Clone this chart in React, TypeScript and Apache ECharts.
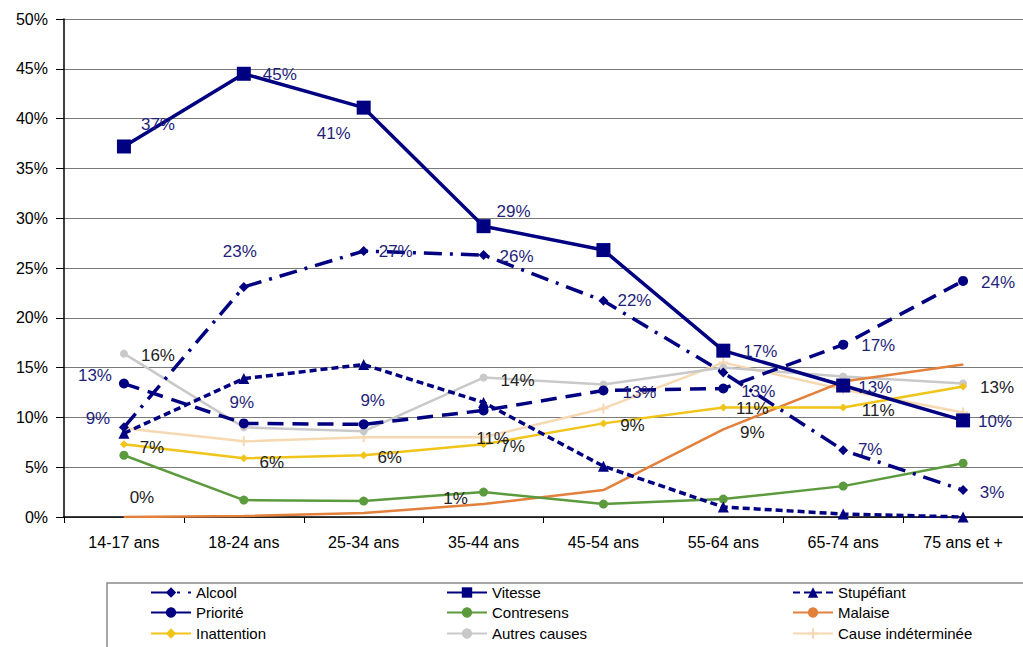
import React, { useEffect, useRef } from "react";
import * as echarts from "echarts";

const categories = ["14-17 ans", "18-24 ans", "25-34 ans", "35-44 ans", "45-54 ans", "55-64 ans", "65-74 ans", "75 ans et +"];
const yTicks = [0, 5, 10, 15, 20, 25, 30, 35, 40, 45, 50];

const alcool = [9.0, 23.1, 26.7, 26.3, 21.7, 14.5, 6.7, 2.7];
const vitesse = [37.2, 44.5, 41.1, 29.2, 26.8, 16.7, 13.2, 9.7];
const stupefiant = [8.4, 13.9, 15.3, 11.5, 5.1, 1.0, 0.3, 0.0];
const priorite = [13.4, 9.4, 9.3, 10.7, 12.7, 12.9, 17.3, 23.7];
const contresens = [6.2, 1.7, 1.6, 2.5, 1.3, 1.8, 3.1, 5.4];
const malaise = [0.0, 0.1, 0.4, 1.3, 2.7, 8.8, 13.6, 15.3];
const inattention = [7.3, 5.9, 6.2, 7.3, 9.4, 11.0, 11.0, 13.1];
const autres = [16.4, 9.0, 8.6, 14.0, 13.3, 15.0, 14.1, 13.4];
const indeterminee = [8.9, 7.6, 8.0, 8.0, 10.9, 15.5, 12.8, 10.5];

// label offsets (dx, dy from point), null = no label
type Off = [number, number] | null;
const alcoolLbl: Off[] = [[-26, -9], [-4, -35], [32, 0], [33, 1], [31, 0], null, [27, -1], [29, 2]];
const vitesseLbl: Off[] = [[34, -22], [36, 1], [-30, 26], [30, -15], null, [37, 1], [32, 2], [32, 1]];
const prioriteLbl: Off[] = [[-29, -8], [-2, -21], [9, -24], [9, 28], [36, 2], [35, 3], [35, 1], [35, 2]];
const autresLbl: Off[] = [[34, 2], null, null, [34, 3], null, null, null, [34, 4]];
const inattentionLbl: Off[] = [[28, 3], [28, 4], [26, 2], [29, 2], [29, 2], [29, 1], [35, 3], null];
const malaiseLbl: Off[] = [[18, -20], null, null, [-28, -6], null, [29, 3], null, null];
const noLbl: Off[] = [null, null, null, null, null, null, null, null];

const NAVY = "#000080";
const NAVY_TXT = "#1f1f7a";
const BLACK_TXT = "#222";
const FONT = "Liberation Sans, Arial, sans-serif";

function buildData(values: number[], offs: Off[], color: string, overrides: Record<number, string> = {}) {
  return values.map((v, i) => {
    const o = offs[i];
    return {
      value: v,
      label: o
        ? {
            show: true,
            position: "inside",
            offset: o,
            color: overrides[i] || color,
            fontSize: 17,
            fontFamily: FONT,
            formatter: (p: any) => Math.round(p.value) + "%",
          }
        : { show: false },
    };
  });
}

function line(
  name: string,
  values: number[],
  offs: Off[],
  color: string,
  width: number,
  dash: any,
  symbol: string,
  symbolSize: number,
  labelColor: string,
  overrides: Record<number, string> = {}
) {
  return {
    name,
    type: "line",
    data: buildData(values, offs, labelColor, overrides),
    symbol,
    symbolSize,
    showAllSymbol: true,
    lineStyle: { color, width, type: dash },
    itemStyle: { color, borderWidth: 0 },
    emphasis: { disabled: true },
  };
}

const PLUS = "path://M4,0h2v10h-2z M0,4h10v2h-10z";

const series = [
  line("Cause indéterminée", indeterminee, noLbl, "#f6d9b3", 2.5, "solid", PLUS, 10, BLACK_TXT),
  line("Autres causes", autres, autresLbl, "#c9c9c9", 2.5, "solid", "circle", 8, BLACK_TXT),
  line("Malaise", malaise, malaiseLbl, "#e2803c", 2.5, "solid", "circle", 1, BLACK_TXT),
  line("Inattention", inattention, inattentionLbl, "#f0c419", 2.5, "solid", "diamond", 8, BLACK_TXT),
  line("Contresens", contresens, noLbl, "#5c9a3e", 2.5, "solid", "circle", 9, BLACK_TXT),
  line("Stupéfiant", stupefiant, noLbl, NAVY, 3.5, [7, 4], "triangle", 11, NAVY_TXT),
  line("Priorité", priorite, prioriteLbl, NAVY, 3.5, [16, 9], "circle", 10, NAVY_TXT, { 3: BLACK_TXT }),
  line("Alcool", alcool, alcoolLbl, NAVY, 3.5, [18, 8, 3, 8], "diamond", 10, NAVY_TXT),
  line("Vitesse", vitesse, vitesseLbl, NAVY, 3.5, "solid", "rect", 14, NAVY_TXT),
];

const legendRows = [
  ["Alcool", "Vitesse", "Stupéfiant"],
  ["Priorité", "Contresens", "Malaise"],
  ["Inattention", "Autres causes", "Cause indéterminée"],
];
const legendLeft = [150, 446, 792];
const legendTop = [585, 605, 626];

const legends: any[] = [];
legendRows.forEach((row, r) =>
  row.forEach((name, c) =>
    legends.push({
      data: [name],
      orient: "horizontal",
      left: legendLeft[c],
      top: legendTop[r],
      itemWidth: 40,
      itemHeight: 13,
      itemGap: 0,
      padding: 0,
      selectedMode: false,
      textStyle: { color: "#000", fontSize: 15, fontFamily: FONT },
    })
  )
);

const option: any = {
  animation: false,
  backgroundColor: "#fff",
  grid: { left: 64, top: 19, bottom: 130, right: -6, containLabel: false },
  xAxis: {
    type: "category",
    data: categories,
    boundaryGap: true,
    axisLine: { show: true, lineStyle: { color: "#000", width: 1.5 } },
    axisTick: { show: true, length: 6, lineStyle: { color: "#000" } },
    axisLabel: { color: "#000", fontSize: 16, fontFamily: FONT, margin: 17, interval: 0 },
    splitLine: { show: false },
  },
  yAxis: {
    type: "value",
    min: yTicks[0],
    max: yTicks[yTicks.length - 1],
    interval: 5,
    axisLine: { show: true, lineStyle: { color: "#000", width: 1.5 } },
    axisTick: { show: true, length: 8, lineStyle: { color: "#000" } },
    axisLabel: { color: "#000", fontSize: 16, fontFamily: FONT, margin: 16, formatter: "{value}%" },
    splitLine: { show: true, lineStyle: { color: "#7a7a7a", width: 1.2 } },
  },
  legend: legends,
  graphic: [
    {
      type: "rect",
      shape: { x: 107, y: 583, width: 1000, height: 100 },
      style: { fill: "none", stroke: "#8a8a8a", lineWidth: 1.5 },
      silent: true,
    },
  ],
  series,
};

export default function App() {
  const ref = useRef<HTMLDivElement>(null);
  useEffect(() => {
    const chart = echarts.init(ref.current as HTMLDivElement, null, { renderer: "svg" });
    chart.setOption(option);
    return () => chart.dispose();
  }, []);
  return (
    <div
      ref={ref}
      style={{ position: "fixed", left: 0, top: 0, width: 1023, height: 647, background: "#fff" }}
    />
  );
}
